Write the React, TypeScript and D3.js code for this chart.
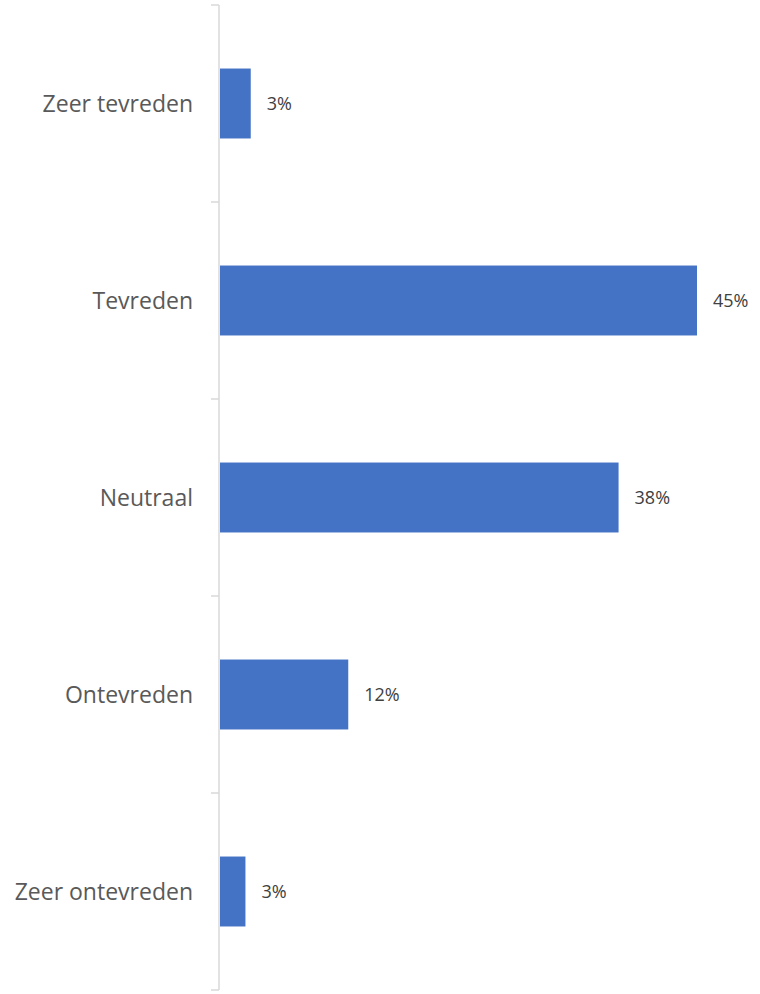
import React from "react";
import * as d3 from "d3";

const categories = ["Zeer tevreden", "Tevreden", "Neutraal", "Ontevreden", "Zeer ontevreden"];
const values = [2.9, 45.0, 37.6, 12.1, 2.4];
const valueLabels = ["3%", "45%", "38%", "12%", "3%"];

const W = 760;
const H = 994;
const axisX = 219;
const top = 5;
const bottom = 990;

export default function App() {
  const x = d3.scaleLinear().domain([0, 45]).range([axisX + 1, 697]);
  const y = d3.scaleBand<string>().domain(categories).range([top, bottom]).paddingInner(0.645).paddingOuter(0.3225);
  const outer = d3.scaleBand<string>().domain(categories).range([top, bottom]);
  const tickYs = [...categories.map((c) => outer(c) as number), bottom];

  return (
    <svg width={W} height={H} style={{ position: "absolute", left: 0, top: 0 }} fontFamily="'Open Sans', 'Noto Sans', sans-serif">
      <line x1={axisX} x2={axisX} y1={top} y2={bottom} stroke="#d9d9d9" strokeWidth={1.5} />
      {tickYs.map((t, i) => (
        <line key={i} x1={axisX - 8} x2={axisX} y1={t} y2={t} stroke="#d9d9d9" strokeWidth={1.5} />
      ))}
      {categories.map((c, i) => {
        const yy = y(c) as number;
        const bw = y.bandwidth();
        const xe = x(values[i]);
        return (
          <g key={c}>
            <rect x={x(0)} y={yy} width={xe - x(0)} height={bw} fill="#4472c4" />
            <text x={axisX - 26} y={yy + bw / 2} dy="0.36em" textAnchor="end" fontSize={23} fill="#595959">
              {c}
            </text>
            <text x={xe + 16} y={yy + bw / 2} dy="0.36em" textAnchor="start" fontSize={18} fill="#404040">
              {valueLabels[i]}
            </text>
          </g>
        );
      })}
    </svg>
  );
}
